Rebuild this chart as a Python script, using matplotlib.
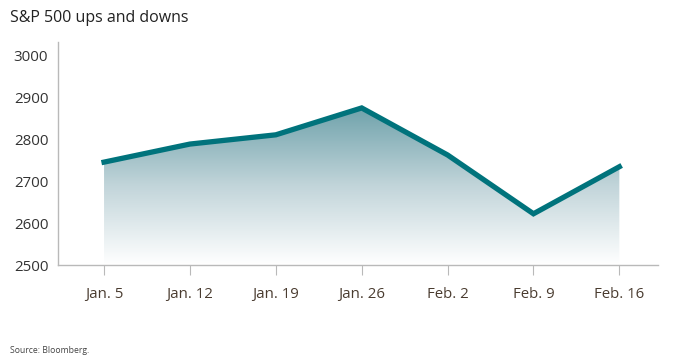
import matplotlib.pyplot as plt
import numpy as np
from matplotlib.colors import LinearSegmentedColormap
from matplotlib.patches import Polygon

plt.rcParams['font.family'] = ['Open Sans', 'DejaVu Sans']

dates = ['Jan. 5', 'Jan. 12', 'Jan. 19', 'Jan. 26', 'Feb. 2', 'Feb. 9', 'Feb. 16']
close = [2745, 2788, 2810, 2874, 2762, 2622, 2734]
yticks = [2500, 2600, 2700, 2800, 2900, 3000]

teal = '#00737c'
grey = '#b9b9b9'

fig = plt.figure(figsize=(6.73, 3.59), dpi=100)
ax = fig.add_axes([0.0862, 0.2618, 0.8915, 0.6212])

x = np.arange(len(dates))
ymin, ymax = 2500, 3031

# gradient fill under the line
cmap = LinearSegmentedColormap.from_list('g', ['#ffffff', '#c2d5da', '#6fa2ab'])
grad = np.linspace(0, 1, 256).reshape(-1, 1)
im = ax.imshow(grad, extent=[x[0], x[-1], ymin, max(close)], origin='lower',
               aspect='auto', cmap=cmap, zorder=1)
verts = [(x[0], ymin)] + list(zip(x, close)) + [(x[-1], ymin)]
clip = Polygon(verts, closed=True, transform=ax.transData, facecolor='none', edgecolor='none')
ax.add_patch(clip)
im.set_clip_path(clip)

ax.plot(x, close, color=teal, lw=3.8, solid_joinstyle='miter', zorder=3)

ax.set_xlim(-0.536, 6.45)
ax.set_ylim(ymin, ymax)
ax.set_xticks(x)
ax.set_xticklabels(dates, fontsize=10.8, color='#4a3c30')
ax.set_yticks(yticks)
ax.set_yticklabels([str(v) for v in yticks], fontsize=10.8, color='#333333')

for s in ['top', 'right']:
    ax.spines[s].set_visible(False)
for s in ['left', 'bottom']:
    ax.spines[s].set_color(grey)
    ax.spines[s].set_linewidth(1)

ax.tick_params(axis='x', length=7, color=grey, pad=9)
ax.tick_params(axis='y', length=0, pad=7)

fig.text(0.0149, 0.95, 'S&P 500 ups and downs', fontsize=11.5, color='#222222', va='center')
fig.text(0.0149, 0.025, 'Source: Bloomberg.', fontsize=6.2, color='#444444', va='center')

fig.savefig('out.png', dpi=100)
